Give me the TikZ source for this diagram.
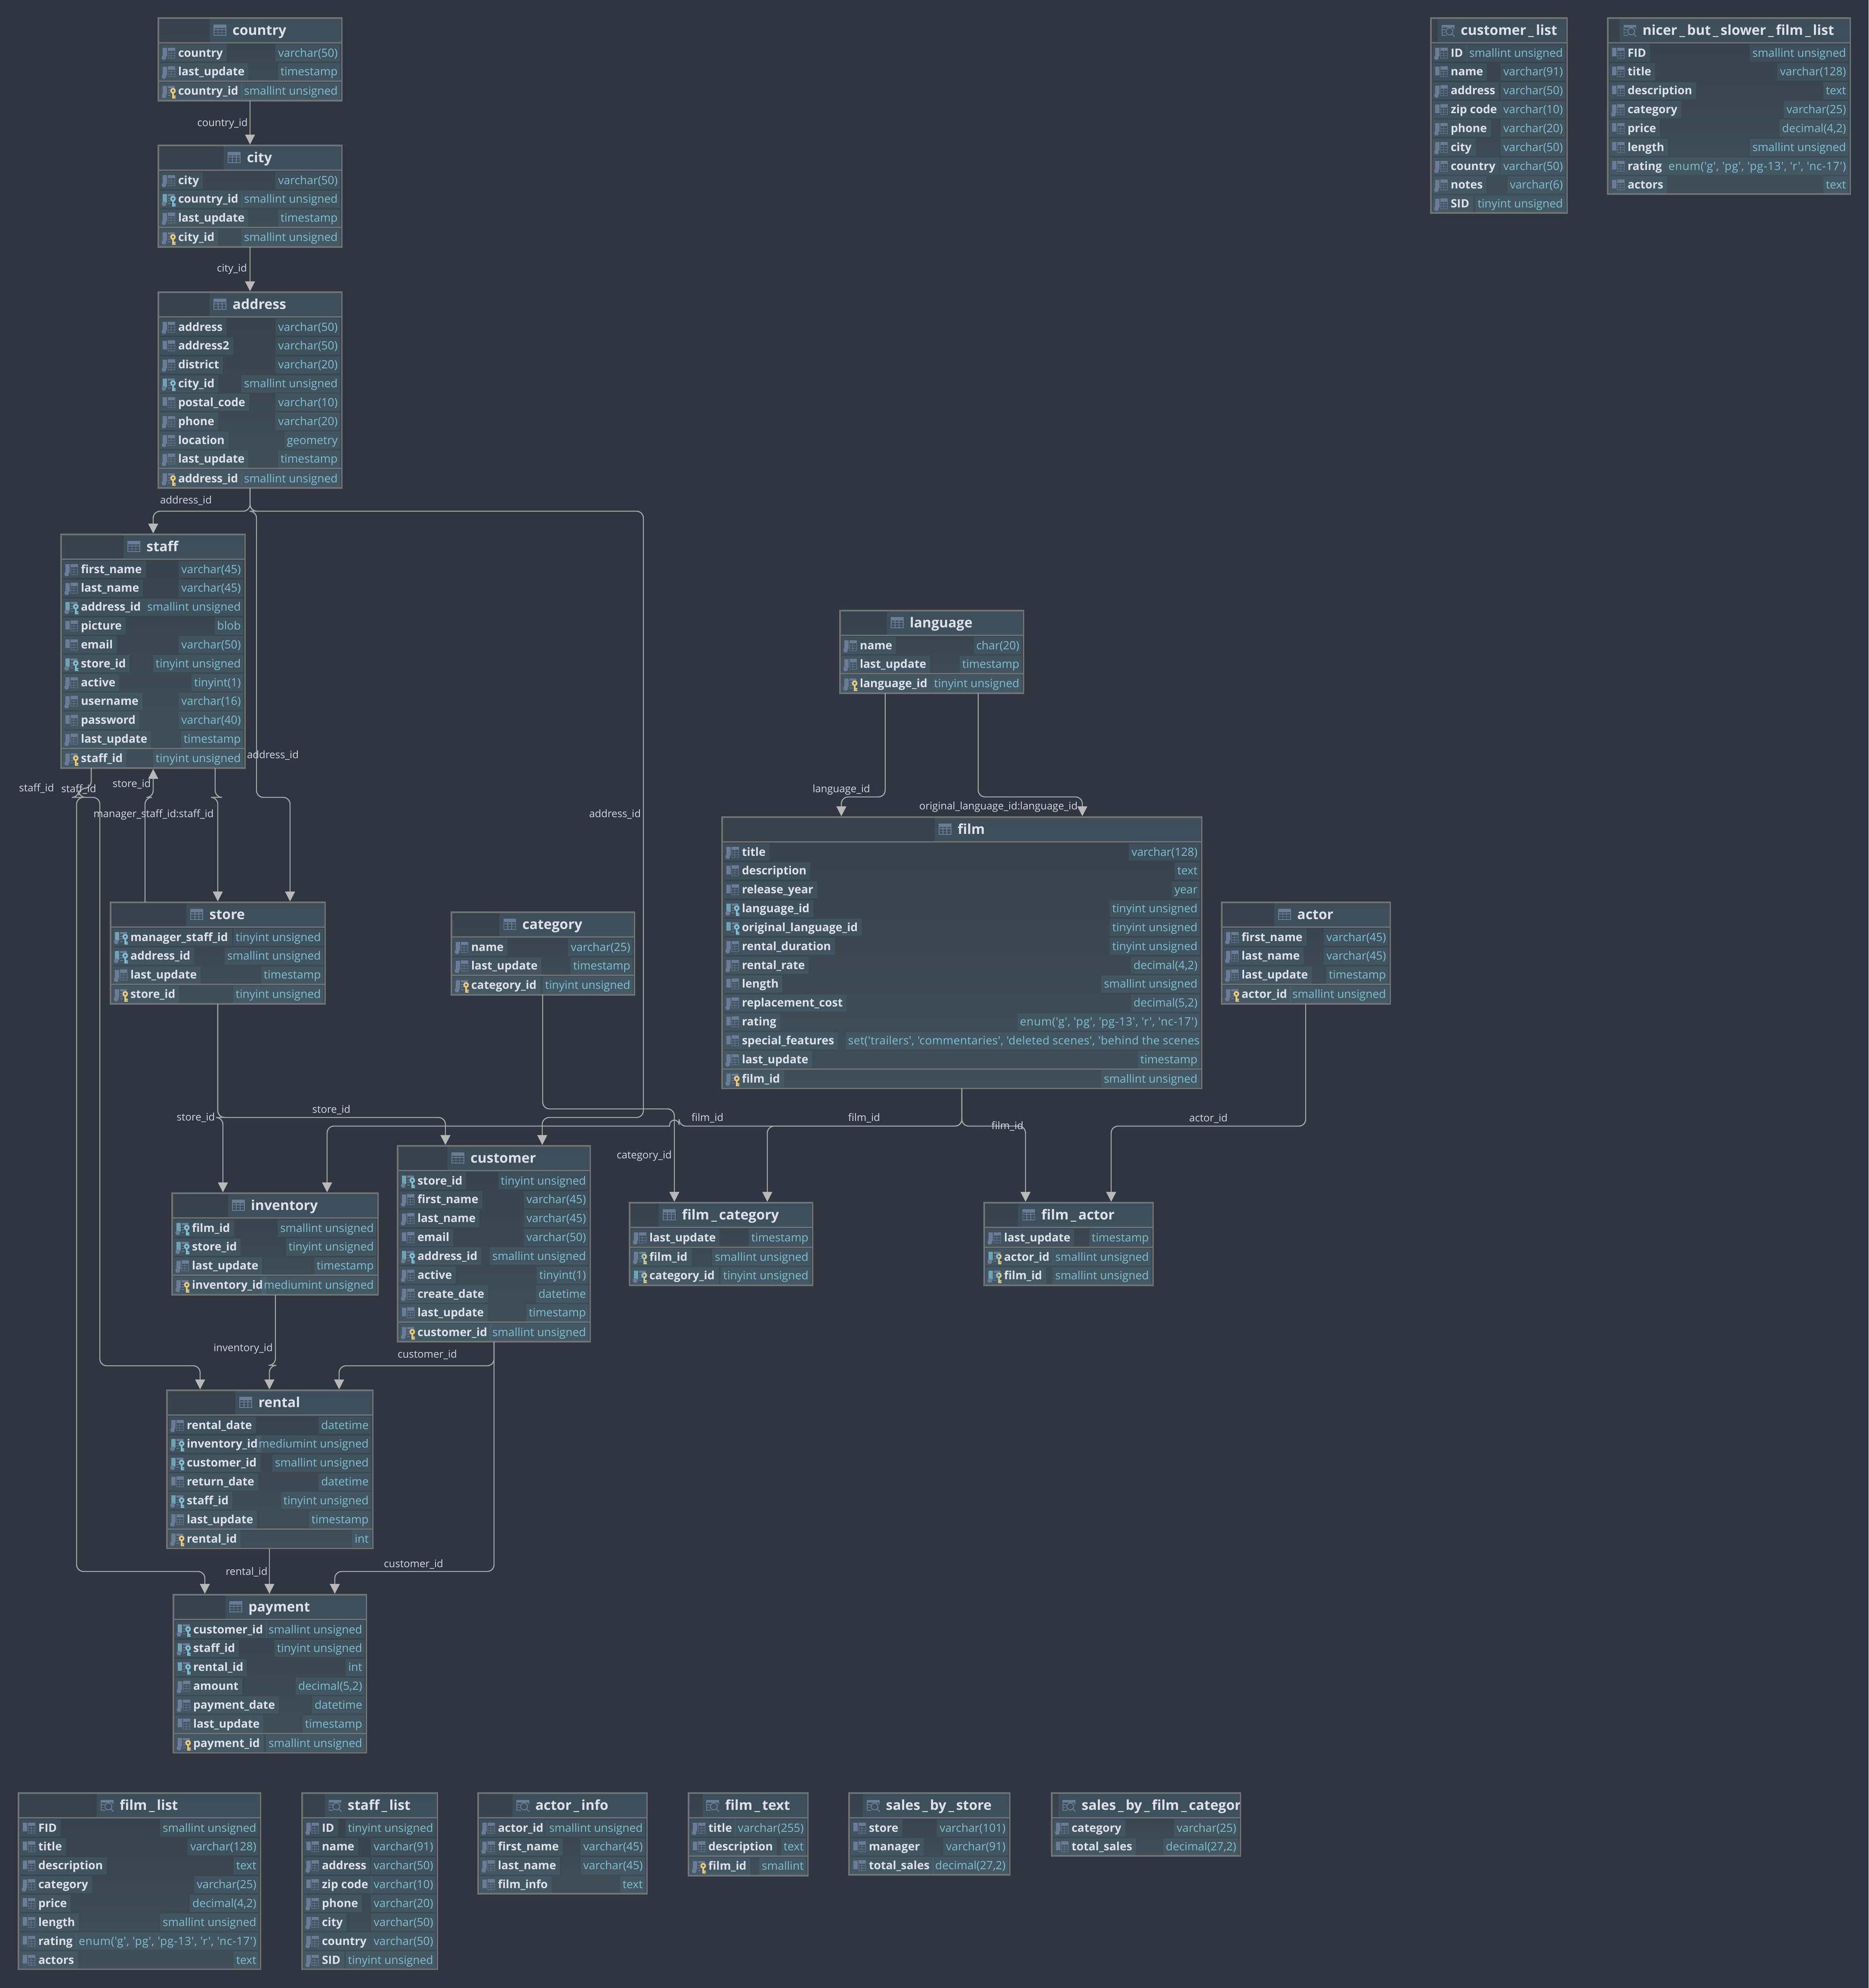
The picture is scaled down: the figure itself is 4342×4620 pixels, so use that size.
\documentclass[tikz,border=0pt]{standalone}
\usepackage{fontspec}
\usetikzlibrary{arrows.meta}
\newfontfamily\inter{Open Sans}
\definecolor{canvasc}{HTML}{2F3541}
\definecolor{framec}{HTML}{707375}
\definecolor{toptbl}{HTML}{36414C}
\definecolor{bottbl}{HTML}{3F4E58}
\definecolor{boxc}{HTML}{6A9AB0}
\definecolor{namec}{HTML}{DDE1EB}
\definecolor{typec}{HTML}{7FBFD0}
\definecolor{iconc}{HTML}{6D7B96}
\definecolor{fkc}{HTML}{6EA3B3}
\definecolor{keyc}{HTML}{EAC87A}
\definecolor{linkc}{HTML}{A9A9A9}
\definecolor{tipc}{HTML}{B8B8B8}
\definecolor{labelc}{HTML}{D5D9E3}
\newlength\ttlw
\newcommand\tfont{\inter\bfseries\fontsize{16}{19}\selectfont}
\tikzset{
  tblframe/.style={draw=framec,line width=1.75pt,top color=toptbl,bottom color=bottbl,inner sep=0pt,outer sep=0pt,anchor=north west},
  rowbox/.style={fill=boxc,fill opacity=.15,text opacity=1,inner sep=0pt,outer sep=0pt,minimum height=20pt,text height=12pt,text depth=3pt},
  namebox/.style={rowbox,anchor=west,text=namec,font=\inter\bfseries\fontsize{13.3}{16}\selectfont},
  typebox/.style={rowbox,anchor=east,text=typec,font=\inter\fontsize{13.2}{16}\selectfont},
  titlenode/.style={anchor=base west,inner sep=0pt,text=namec,font=\tfont},
  sepline/.style={draw=framec,line width=1.5pt},
  fk/.style={draw=linkc,line width=1.2pt,rounded corners=8pt,shorten >=1pt,-{Triangle[width=11.5pt,length=11.5pt,color=tipc]}},
  linklabel/.style={text=labelc,inner sep=0pt,font=\inter\fontsize{12}{14}\selectfont}
}
% --- icons, in px relative to (left of icon, row centre)
\newcommand\icobar[1]{\fill[#1] (0,-12) rectangle (10,8);}
\newcommand\icodot{\fill[iconc] (3,11) circle[radius=5.5];}
\newcommand\icotab{\fill[iconc] (12,-12) rectangle (28,-5);
  \draw[iconc,line width=.5pt] (12,-12) rectangle (28,12) (12,0) -- (28,0) (12,6) -- (28,6) (19,-5) -- (19,12);}
\newcommand\icobits{\fill[iconc] (12,-12) rectangle (28,-7) (12,-3) rectangle (18,-1) (12,3) rectangle (18,5) (12,9) rectangle (18,11);}
\newcommand\icokey[1]{%
  \fill[#1,even odd rule] (24,-1) circle[radius=6.5] (24,-1) circle[radius=2.5];
  \fill[#1] (22,4) rectangle (26,17) (26,10) rectangle (30,13) (26,14) rectangle (30,17);}
\newcommand\icohalf{\icokey{keyc}\begin{scope}\clip (15,-9) rectangle (24,18);
  \fill[typec,even odd rule] (24,-1) circle[radius=6.5] (24,-1) circle[radius=2.5];
  \fill[typec] (22,4) rectangle (24,17);\end{scope}}
\newcommand\icod{\icobar{iconc}\icodot\icotab}
\newcommand\icoc{\icobar{iconc}\icotab}
\newcommand\icof{\icobar{fkc}\icodot\icobits\icokey{typec}}
\newcommand\icog{\icobar{fkc}\icobits\icokey{typec}}
\newcommand\icop{\icobar{iconc}\icodot\icobits\icokey{keyc}}
\newcommand\icoq{\icobar{fkc}\icodot\icobits\icohalf}
\newcommand\icor{\icobar{iconc}\icodot\icobits\icohalf}
% --- wide underscore in titles, wide quotes in long types
\newcommand\us{\hspace*{2.4pt}\_\hspace*{2.4pt}}
\newcommand\lsp[2]{{\addfontfeature{LetterSpace=#1}#2}}
% --- table: id, x0, x1, top, non-key rows, key rows, icon t/v, title
\newcommand\dbt[8]{%
  \edef\tid{#1}\def\rn{0}%
  \pgfmathsetmacro\xL{#2}\pgfmathsetmacro\xR{#3}\pgfmathsetmacro\tTop{#4}%
  \pgfmathsetmacro\curY{#4+83}%
  \pgfmathsetmacro\hgt{#6>0 ? 82+43.85*(#5-1)+23+23+43.85*(#6-1)+24 : 82+43.85*(#5-1)+24}%
  \pgfmathsetmacro\wdd{(#3-#2-3.5)/2}\pgfmathsetmacro\hhh{(\hgt-3.5)/2}%
  \node[tblframe,minimum width=\wdd pt,minimum height=\hhh pt] (#1) at ({#2+1.75},{#4+1.75}) {};
  \setbox0=\hbox{\pgfinterruptpicture\tfont #8\endpgfinterruptpicture}\ttlw=\wd0
  \pgfmathsetmacro\xS{max((#2+#3)/2-(43+2*\ttlw)/2,#2+28)}%
  \begin{scope}
    \clip ({#2+3.5},#4) rectangle ({#3-3.5},{#4+59});
    \fill[boxc,opacity=.15] ({\xS-10},{#4+3.5}) rectangle ({#3-3.5},{#4+58});
    \begin{scope}[shift={(\xS,{#4+30})}]
      \csname hdr#7\endcsname
    \end{scope}
    \node[titlenode] (#1-title) at ({\xS+43},{#4+41}) {#8};
  \end{scope}
  \draw[sepline] ({#2+3},{#4+59.5}) -- ({#3-3},{#4+59.5});
}
\newcommand\hdrt{\fill[iconc] (0,-12) rectangle (28,-5);
  \draw[iconc,line width=.9pt] (0,-12) rectangle (28,12) (0,-1) -- (28,-1) (0,5.5) -- (28,5.5) (9.5,-5) -- (9.5,12) (18.5,-5) -- (18.5,12);}
\newcommand\hdrv{\fill[iconc] (0,-12) rectangle (28,-6);
  \draw[iconc,line width=.9pt] (0,-12) -- (0,12) -- (10,12) (28,-12) -- (28,-2) (0,-1) -- (8,-1) (0,5.5) -- (7,5.5);
  \draw[iconc,line width=1.1pt] (17,3) circle[radius=8] (23,9) -- (29,15);}
\newcommand\rw[3]{%
  \pgfmathtruncatemacro\rn{\rn+1}%
  \node[namebox] (\tid-n\rn) at ({\xL+6},\curY) {\hspace*{21pt}#2\hspace*{4.5pt}};
  \node[typebox] (\tid-t\rn) at ({\xR-6},\curY) {\hspace*{3pt}#3\hspace*{2.7pt}};
  \begin{scope}[shift={({\xL+12},\curY)}]\csname ico#1\endcsname\end{scope}
  \pgfmathsetmacro\curY{\curY+43.85}%
}
\newcommand\pks{%
  \draw[sepline] ({\xL+3},{\curY-21.85}) -- ({\xR-3},{\curY-21.85});
  \pgfmathsetmacro\curY{\curY+1.2}%
}
\newcommand\lab[4]{\node[linklabel] (#1) at (#2,#3) {#4};}
\newcommand\enumt{\lsp{2.7}{enum('g', 'pg', 'pg-13', 'r', 'nc-17')}}
\begin{document}
\catcode`\_=12
\begin{tikzpicture}[x=.5pt,y=-.5pt]
\fill[canvasc] (0,0) rectangle (4342,4620);
\useasboundingbox (0,0) rectangle (4342,4620);
% tables
\dbt{country}{366}{796}{40}{2}{1}{t}{country}
\rw{d}{country}{varchar(50)}\rw{d}{last_update}{timestamp}\pks\rw{p}{country_id}{smallint unsigned}
\dbt{city}{366}{796}{336}{3}{1}{t}{city}
\rw{d}{city}{varchar(50)}\rw{f}{country_id}{smallint unsigned}\rw{d}{last_update}{timestamp}\pks\rw{p}{city_id}{smallint unsigned}
\dbt{address}{366}{796}{677}{8}{1}{t}{address}
\rw{d}{address}{varchar(50)}\rw{c}{address2}{varchar(50)}\rw{d}{district}{varchar(20)}\rw{f}{city_id}{smallint unsigned}\rw{c}{postal_code}{varchar(10)}\rw{d}{phone}{varchar(20)}\rw{d}{location}{geometry}\rw{d}{last_update}{timestamp}\pks\rw{p}{address_id}{smallint unsigned}
\dbt{staff}{140}{571}{1240}{10}{1}{t}{staff}
\rw{d}{first_name}{varchar(45)}\rw{d}{last_name}{varchar(45)}\rw{f}{address_id}{smallint unsigned}\rw{c}{picture}{blob}\rw{c}{email}{varchar(50)}\rw{f}{store_id}{tinyint unsigned}\rw{d}{active}{tinyint(1)}\rw{d}{username}{varchar(16)}\rw{c}{password}{varchar(40)}\rw{d}{last_update}{timestamp}\pks\rw{p}{staff_id}{tinyint unsigned}
\dbt{store}{255}{757}{2095}{3}{1}{t}{store}
\rw{f}{manager_staff_id}{tinyint unsigned}\rw{f}{address_id}{smallint unsigned}\rw{d}{last_update}{timestamp}\pks\rw{p}{store_id}{tinyint unsigned}
\dbt{language}{1950}{2380}{1417}{2}{1}{t}{language}
\rw{d}{name}{char(20)}\rw{d}{last_update}{timestamp}\pks\rw{p}{language_id}{tinyint unsigned}
\dbt{film}{1676}{2794}{1897}{12}{1}{t}{film}
\rw{d}{title}{varchar(128)}\rw{c}{description}{text}\rw{c}{release_year}{year}\rw{f}{language_id}{tinyint unsigned}\rw{g}{original_language_id}{tinyint unsigned}\rw{d}{rental_duration}{tinyint unsigned}\rw{d}{rental_rate}{decimal(4,2)}\rw{c}{length}{smallint unsigned}\rw{d}{replacement_cost}{decimal(5,2)}\rw{c}{rating}{\enumt}\rw{c}{special_features}{\lsp{1.5}{set('trailers', 'commentaries', 'deleted scenes', 'behind the scenes}\hspace*{-2.5pt}}\rw{d}{last_update}{timestamp}\pks\rw{p}{film_id}{smallint unsigned}
\dbt{category}{1047}{1476}{2118}{2}{1}{t}{category}
\rw{d}{name}{varchar(25)}\rw{d}{last_update}{timestamp}\pks\rw{p}{category_id}{tinyint unsigned}
\dbt{actor}{2837}{3232}{2095}{3}{1}{t}{actor}
\rw{d}{first_name}{varchar(45)}\rw{d}{last_name}{varchar(45)}\rw{d}{last_update}{timestamp}\pks\rw{p}{actor_id}{smallint unsigned}
\dbt{customer}{922}{1373}{2661}{8}{1}{t}{customer}
\rw{f}{store_id}{tinyint unsigned}\rw{d}{first_name}{varchar(45)}\rw{d}{last_name}{varchar(45)}\rw{c}{email}{varchar(50)}\rw{f}{address_id}{smallint unsigned}\rw{d}{active}{tinyint(1)}\rw{d}{create_date}{datetime}\rw{c}{last_update}{timestamp}\pks\rw{p}{customer_id}{smallint unsigned}
\dbt{inventory}{398}{880}{2771}{3}{1}{t}{inventory}
\rw{f}{film_id}{smallint unsigned}\rw{f}{store_id}{tinyint unsigned}\rw{d}{last_update}{timestamp}\pks\rw{p}{inventory_id}{mediumint unsigned}
\dbt{film_category}{1461}{1890}{2793}{1}{2}{t}{film\us category}
\rw{d}{last_update}{timestamp}\pks\rw{r}{film_id}{smallint unsigned}\rw{q}{category_id}{tinyint unsigned}
\dbt{film_actor}{2285}{2681}{2793}{1}{2}{t}{film\us actor}
\rw{d}{last_update}{timestamp}\pks\rw{q}{actor_id}{smallint unsigned}\rw{q}{film_id}{smallint unsigned}
\dbt{rental}{386}{868}{3229}{6}{1}{t}{rental}
\rw{d}{rental_date}{datetime}\rw{f}{inventory_id}{mediumint unsigned}\rw{f}{customer_id}{smallint unsigned}\rw{c}{return_date}{datetime}\rw{f}{staff_id}{tinyint unsigned}\rw{d}{last_update}{timestamp}\pks\rw{p}{rental_id}{int}
\dbt{payment}{401}{853}{3704}{6}{1}{t}{payment}
\rw{f}{customer_id}{smallint unsigned}\rw{f}{staff_id}{tinyint unsigned}\rw{g}{rental_id}{int}\rw{d}{amount}{decimal(5,2)}\rw{d}{payment_date}{datetime}\rw{c}{last_update}{timestamp}\pks\rw{p}{payment_id}{smallint unsigned}
\dbt{customer_list}{3323}{3643}{40}{9}{0}{v}{customer\us list}
\rw{d}{ID}{smallint unsigned}\rw{c}{name}{varchar(91)}\rw{d}{address}{varchar(50)}\rw{c}{zip code}{varchar(10)}\rw{d}{phone}{varchar(20)}\rw{d}{city}{varchar(50)}\rw{d}{country}{varchar(50)}\rw{d}{notes}{varchar(6)}\rw{d}{SID}{tinyint unsigned}
\dbt{nicer_list}{3734}{4301}{40}{8}{0}{v}{nicer\us but\us slower\us film\us list}
\rw{c}{FID}{smallint unsigned}\rw{c}{title}{varchar(128)}\rw{c}{description}{text}\rw{d}{category}{varchar(25)}\rw{c}{price}{decimal(4,2)}\rw{c}{length}{smallint unsigned}\rw{c}{rating}{\enumt}\rw{c}{actors}{text}
\dbt{film_list}{41}{607}{4165}{8}{0}{v}{film\us list}
\rw{c}{FID}{smallint unsigned}\rw{c}{title}{varchar(128)}\rw{c}{description}{text}\rw{d}{category}{varchar(25)}\rw{c}{price}{decimal(4,2)}\rw{c}{length}{smallint unsigned}\rw{c}{rating}{\enumt}\rw{c}{actors}{text}
\dbt{staff_list}{700}{1018}{4165}{8}{0}{v}{staff\us list}
\rw{d}{ID}{tinyint unsigned}\rw{c}{name}{varchar(91)}\rw{d}{address}{varchar(50)}\rw{c}{zip code}{varchar(10)}\rw{d}{phone}{varchar(20)}\rw{d}{city}{varchar(50)}\rw{d}{country}{varchar(50)}\rw{d}{SID}{tinyint unsigned}
\dbt{actor_info}{1109}{1505}{4165}{4}{0}{v}{actor\us info}
\rw{d}{actor_id}{smallint unsigned}\rw{d}{first_name}{varchar(45)}\rw{d}{last_name}{varchar(45)}\rw{c}{film_info}{text}
\dbt{film_text}{1598}{1879}{4165}{2}{1}{v}{film\us text}
\rw{d}{title}{varchar(255)}\rw{c}{description}{text}\pks\rw{p}{film_id}{smallint}
\dbt{sales_by_store}{1971}{2348}{4165}{3}{0}{v}{sales\us by\us store}
\rw{c}{store}{varchar(101)}\rw{c}{manager}{varchar(91)}\rw{c}{total_sales}{decimal(27,2)}
\dbt{sales_cat}{2442}{2884}{4165}{2}{0}{v}{sales\us by\us film\us category}
\rw{d}{category}{varchar(25)}\rw{c}{total_sales}{decimal(27,2)}
% connectors
\draw[fk] (country.south) -- (city.north);
\draw[fk] (city.south) -- (address.north);
\draw[fk] (address.south) -- (581,1188) -- (356,1188) -- (staff.north -| 356,0);
\draw[fk] (address.south) -- (581,1188) -- (596,1188) -- (596,1853) -- (674,1853) -- (store.north -| 674,0);
\draw[fk] (address.south) -- (581,1188) -- (1495,1188) -- (1495,2597) -- (1260,2597) -- (customer.north -| 1260,0);
\draw[fk] (staff.south -| 212,0) -- (212,1832) -- (183,1832) -- (183,1853) -- (232,1853) -- (232,3174) -- (465,3174) -- (rental.north -| 465,0);
\draw[fk] (staff.south -| 212,0) -- (212,1832) -- (183,1832) -- (183,1853) -- (178,1853) -- (178,3652) -- (476,3652) -- (payment.north -| 476,0);
\draw[fk] (staff.south -| 500,0) -- (500,1853) -- (506,1853) -- (store.north -| 506,0);
\draw[fk] (store.north -| 337,0) -- (337,1853) -- (356,1853) -- (staff.south -| 356,0);
\draw[fk] (category.south -| 1261,0) -- (1261,2577) -- (1567,2577) -- (film_category.north -| 1567,0);
\draw[fk] (store.south) -- (506,2597) -- (1035,2597) -- (customer.north -| 1035,0);
\draw[fk] (store.south) -- (506,2597) -- (518,2597) -- (inventory.north -| 518,0);
\draw[fk] (language.south -| 2057,0) -- (2057,1852) -- (1955,1852) -- (film.north -| 1955,0);
\draw[fk] (language.south -| 2273,0) -- (2273,1852) -- (2515,1852) -- (film.north -| 2515,0);
\draw[fk] (film.south) -- (2235,2617) -- (1578,2617) [sharp corners] -- (1578,2614) arc[start angle=0,end angle=-180,radius=11] -- (1556,2617) [rounded corners=8pt] -- (760,2617) -- (inventory.north -| 760,0);
\draw[fk] (film.south) -- (2235,2617) -- (1783,2617) -- (film_category.north -| 1783,0);
\draw[fk] (film.south) -- (2235,2617) -- (2383,2617) -- (film_actor.north -| 2383,0);
\draw[fk] (actor.south -| 3034,0) -- (3034,2617) -- (2582,2617) -- (film_actor.north -| 2582,0);
\draw[fk] (inventory.south -| 640,0) -- (640,3173) -- (626,3173) -- (rental.north -| 626,0);
\draw[fk] (customer.south -| 1148,0) -- (1148,3174) -- (788,3174) -- (rental.north -| 788,0);
\draw[fk] (customer.south -| 1148,0) -- (1148,3652) -- (778,3652) -- (payment.north -| 778,0);
\draw[fk] (rental.south -| 626,0) -- (payment.north -| 626,0);
% connector labels
\lab{l1}{517}{287}{country_id}
\lab{l2}{539}{625}{city_id}
\lab{l3}{432}{1163}{address_id}
\lab{l4}{634}{1755}{address_id}
\lab{l5}{1429}{1892}{address_id}
\lab{l6}{85}{1832}{staff_id}
\lab{l7}{183}{1834}{staff_id}
\lab{l8}{306}{1822}{store_id}
\lab{l9}{357}{1893}{manager_staff_id:staff_id}
\lab{l10}{1955}{1835}{language_id}
\lab{l11}{2320}{1875}{original_language_id:language_id}
\lab{l12}{455}{2597}{store_id}
\lab{l13}{770}{2579}{store_id}
\lab{l14}{1644}{2598}{film_id}
\lab{l15}{2008}{2598}{film_id}
\lab{l16}{2341}{2617}{film_id}
\lab{l17}{1497}{2686}{category_id}
\lab{l18}{2808}{2599}{actor_id}
\lab{l19}{565}{3134}{inventory_id}
\lab{l20}{993}{3148}{customer_id}
\lab{l21}{573}{3653}{rental_id}
\lab{l22}{961}{3635}{customer_id}
\end{tikzpicture}
\end{document}
